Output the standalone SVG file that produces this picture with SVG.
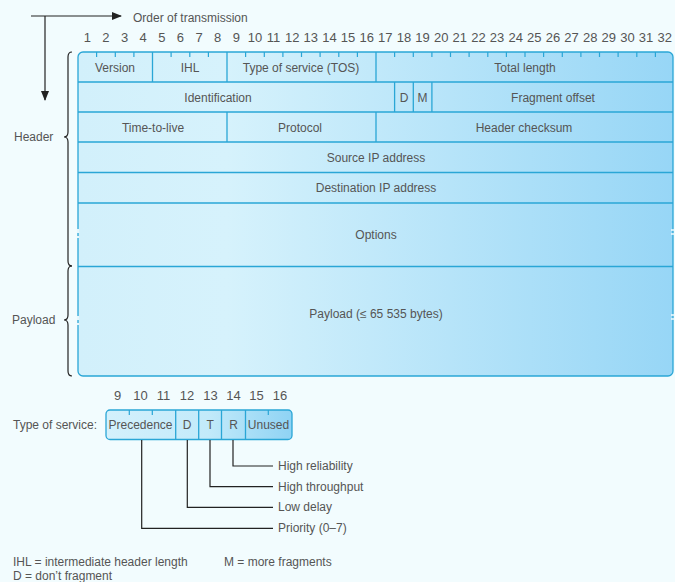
<svg xmlns="http://www.w3.org/2000/svg" width="675" height="582" viewBox="0 0 675 582">
<style>
text{font-family:"Liberation Sans",Arial,sans-serif;font-size:12px;fill:#555}
.m{text-anchor:middle}
.n text{font-size:13px}
.b{stroke:#2aa6d6;stroke-width:1.3;fill:none}
.k{stroke:#222;stroke-width:1.2;fill:none}
.t{stroke:#2aa6d6;stroke-width:1.2}
</style>
<defs>
<linearGradient id="g" gradientUnits="userSpaceOnUse" x1="78" y1="0" x2="673" y2="0">
<stop offset="0" stop-color="#d2f0fb"/><stop offset="0.25" stop-color="#d6f2fc"/><stop offset="1" stop-color="#97d6f6"/>
</linearGradient>
<linearGradient id="g2" gradientUnits="userSpaceOnUse" x1="106" y1="0" x2="292" y2="0">
<stop offset="0" stop-color="#d4f1fc"/><stop offset="0.55" stop-color="#c2eafa"/><stop offset="1" stop-color="#8fd3f4"/>
</linearGradient>
<marker id="ah" markerWidth="10" markerHeight="8" refX="9" refY="4" orient="auto" markerUnits="userSpaceOnUse">
<path d="M0,0 L10,4 L0,8 Z" fill="#222"/>
</marker>
</defs>
<rect width="675" height="582" fill="#f2fcfe"/>

<g id="order">
<path class="k" d="M31,16 H121" marker-end="url(#ah)"/>
<path class="k" d="M45,16 V100" marker-end="url(#ah)"/>
<text x="133" y="22">Order of transmission</text>
</g>

<g id="bitnumbers" class="m n">
<text x="87.3" y="42">1</text><text x="105.9" y="42">2</text><text x="124.6" y="42">3</text><text x="143.2" y="42">4</text>
<text x="161.8" y="42">5</text><text x="180.4" y="42">6</text><text x="199.1" y="42">7</text><text x="217.7" y="42">8</text>
<text x="236.3" y="42">9</text><text x="254.9" y="42">10</text><text x="273.6" y="42">11</text><text x="292.2" y="42">12</text>
<text x="310.8" y="42">13</text><text x="329.4" y="42">14</text><text x="348.1" y="42">15</text><text x="366.7" y="42">16</text>
<text x="385.3" y="42">17</text><text x="403.9" y="42">18</text><text x="422.6" y="42">19</text><text x="441.2" y="42">20</text>
<text x="459.8" y="42">21</text><text x="478.4" y="42">22</text><text x="497.1" y="42">23</text><text x="515.7" y="42">24</text>
<text x="534.3" y="42">25</text><text x="552.9" y="42">26</text><text x="571.6" y="42">27</text><text x="590.2" y="42">28</text>
<text x="608.8" y="42">29</text><text x="627.4" y="42">30</text><text x="646.1" y="42">31</text><text x="664.7" y="42">32</text>
</g>

<g id="datagram">
<rect x="78" y="52" width="595" height="324" rx="5" class="b" style="fill:url(#g)"/>
<path class="b" d="M78,82 H673 M78,112 H673 M78,142 H673 M78,172.5 H673 M78,203 H673 M78,266.5 H673"/>
<path class="b" d="M152.5,52 V82 M227,52 V82 M376,52 V82 M394.6,82 V112 M413.3,82 V112 M431.9,82 V112 M227,112 V142 M376,112 V142"/>
<path class="t" d="M96.6,52 V57 M115.3,52 V57 M133.9,52 V57 M171.1,52 V57 M189.8,52 V57 M208.4,52 V57 M245.6,52 V57 M264.3,52 V57 M282.9,52 V57 M301.5,52 V57 M320.1,52 V57 M338.8,52 V57 M357.4,52 V57 M394.6,52 V57 M413.3,52 V57 M431.9,52 V57 M450.5,52 V57 M469.1,52 V57 M487.8,52 V57 M506.4,52 V57 M525,52 V57 M543.6,52 V57 M562.3,52 V57 M580.9,52 V57 M599.5,52 V57 M618.1,52 V57 M636.8,52 V57 M655.4,52 V57"/>
<path d="M78,229 V233 M78,236 V238 M78,316 V320 M78,323 V325" stroke="#e6f7fd" stroke-width="2.2"/>
<path d="M671,230 H675 M671,234 H675 M671,315 H675 M671,319 H675" stroke="#f2fcfe" stroke-width="1.5"/>
</g>

<g id="fields" class="m">
<text x="115" y="72">Version</text>
<text x="190" y="72">IHL</text>
<text x="301" y="72">Type of service (TOS)</text>
<text x="525" y="72">Total length</text>
<text x="218" y="102">Identification</text>
<text x="404" y="102">D</text>
<text x="422.6" y="102">M</text>
<text x="553" y="102">Fragment offset</text>
<text x="153" y="132">Time-to-live</text>
<text x="300" y="132">Protocol</text>
<text x="524" y="132">Header checksum</text>
<text x="376" y="162">Source IP address</text>
<text x="376" y="192">Destination IP address</text>
<text x="376" y="239">Options</text>
<text x="376" y="318">Payload (≤ 65 535 bytes)</text>
</g>

<g id="header-brace">
<path class="k" d="M72,52 Q68,52 68,57 V132 Q68,137 64,137 Q68,137 68,142 V261 Q68,266 72,266"/>
<text x="14" y="141">Header</text>
</g>
<g id="payload-brace">
<path class="k" d="M72,266 Q68,266 68,271 V315 Q68,320 64,320 Q68,320 68,325 V371 Q68,376 72,376"/>
<text x="12" y="324">Payload</text>
</g>

<g id="tos">
<text x="13" y="429">Type of service:</text>
<g class="m n">
<text x="117.5" y="400">9</text><text x="140.5" y="400">10</text><text x="163.5" y="400">11</text><text x="187" y="400">12</text>
<text x="210.5" y="400">13</text><text x="233.5" y="400">14</text><text x="256.5" y="400">15</text><text x="280" y="400">16</text>
</g>
<rect x="106" y="410" width="186" height="29.5" rx="4" class="b" style="fill:url(#g2)"/>
<path class="b" d="M175.7,410 V439.5 M198.7,410 V439.5 M221.5,410 V439.5 M245.5,410 V439.5"/>
<path class="t" d="M129.3,410 V415 M152.3,410 V415 M268.3,410 V415"/>
<g class="m">
<text x="140.5" y="429">Precedence</text>
<text x="187" y="429">D</text>
<text x="210.2" y="429">T</text>
<text x="233.5" y="429">R</text>
<text x="268.5" y="429">Unused</text>
</g>
</g>

<g id="leaders">
<path class="k" d="M233,440 V466 H273 M210,440 V486.7 H273 M187.3,440 V507.3 H273 M141.7,440 V528.3 H273"/>
<text x="278" y="470">High reliability</text>
<text x="278" y="491">High throughput</text>
<text x="278" y="511">Low delay</text>
<text x="278" y="532">Priority (0–7)</text>
</g>

<g id="legend">
<text x="13" y="566">IHL = intermediate header length</text>
<text x="224" y="566">M = more fragments</text>
<text x="13" y="580">D = don’t fragment</text>
</g>
</svg>
